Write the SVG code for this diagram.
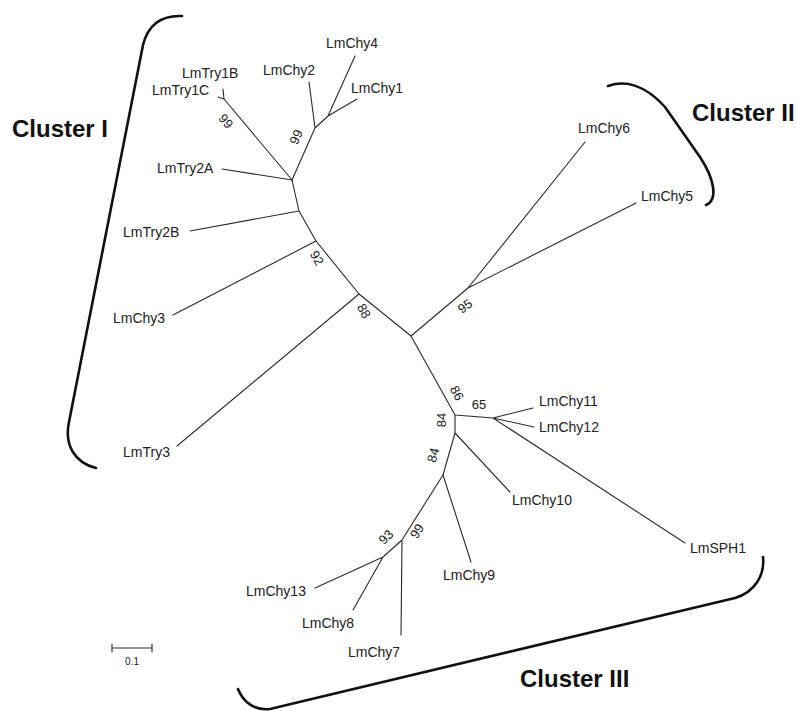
<svg xmlns="http://www.w3.org/2000/svg" width="797" height="711" viewBox="0 0 797 711">
<style>
.br{fill:none;stroke:#2a2a2a;stroke-width:1.1;stroke-linecap:round;stroke-linejoin:round}
.bk{fill:none;stroke:#111;stroke-width:2.6;stroke-linecap:round}
.lb{font-family:"Liberation Sans",Arial,sans-serif;font-size:14px;fill:#222}
.bs{font-family:"Liberation Sans",Arial,sans-serif;font-size:13px;fill:#222;text-anchor:middle}
.cl{font-family:"Liberation Sans",Arial,sans-serif;font-size:24px;font-weight:bold;fill:#111}
</style>
<rect width="797" height="711" fill="#fff"/>
<g id="brackets">
<path class="bk" d="M182,16 C160,15 148,25 143,45 L69,422 C64,445 75,463 96,468"/>
<path class="bk" d="M608,86 C625,80 645,85 665,107 L700,157 C715,180 718,200 706,205"/>
<path class="bk" d="M238,689 C243,702 255,711 270,709 L735,598 C755,592 765,575 763,557"/>
</g>
<g id="connectors">
<path class="br" d="M292,180 L224,99 M224,99 L218,97 M224,99 L223,89"/>
<path class="br" d="M292,180 L222,169"/>
<path class="br" d="M292,180 L315,128 L309,82 M315,128 L328,116 L355,56 M328,116 L357,99"/>
<path class="br" d="M292,180 L299,211 L190,231"/>
<path class="br" d="M299,211 L316,241 L173,315"/>
<path class="br" d="M316,241 L359,294 L177,446"/>
<path class="br" d="M359,294 L411,336 L468,288 L585,142 M468,288 L636,203"/>
<path class="br" d="M411,336 L455,415 L493,418 L533,408 M493,418 L534,427 M493,418 L685,543"/>
<path class="br" d="M455,415 L455,433 L510,492 M455,433 L443,475 L471,562"/>
<path class="br" d="M443,475 L402,540 L401,635 M402,540 L383,557 L315,588 M383,557 L353,610"/>
</g>
<g id="bootstrap">
<text class="bs" transform="translate(226,121) rotate(50)" dy="0.35em">99</text>
<text class="bs" transform="translate(296,137) rotate(-66)" dy="0.35em">99</text>
<text class="bs" transform="translate(317,258) rotate(60)" dy="0.35em">92</text>
<text class="bs" transform="translate(364,311) rotate(60)" dy="0.35em">88</text>
<text class="bs" transform="translate(465,306) rotate(-35)" dy="0.35em">95</text>
<text class="bs" transform="translate(457,393) rotate(62)" dy="0.35em">86</text>
<text class="bs" x="479" y="404" dy="0.35em">65</text>
<text class="bs" transform="translate(441,420) rotate(-90)" dy="0.35em">84</text>
<text class="bs" transform="translate(433,455) rotate(-75)" dy="0.35em">84</text>
<text class="bs" transform="translate(386,537) rotate(-45)" dy="0.35em">93</text>
<text class="bs" transform="translate(417,531) rotate(-58)" dy="0.35em">99</text>
</g>
<g id="LmChy4"><text class="lb" x="326" y="48">LmChy4</text></g>
<g id="LmChy2"><text class="lb" x="263" y="75">LmChy2</text></g>
<g id="LmChy1"><text class="lb" x="351" y="93">LmChy1</text></g>
<g id="LmTry1B"><text class="lb" x="182" y="78">LmTry1B</text></g>
<g id="LmTry1C"><text class="lb" x="152" y="95">LmTry1C</text></g>
<g id="LmTry2A"><text class="lb" x="157" y="173">LmTry2A</text></g>
<g id="LmTry2B"><text class="lb" x="123" y="237">LmTry2B</text></g>
<g id="LmChy3"><text class="lb" x="113" y="323">LmChy3</text></g>
<g id="LmTry3"><text class="lb" x="123" y="457">LmTry3</text></g>
<g id="LmChy6"><text class="lb" x="578" y="133">LmChy6</text></g>
<g id="LmChy5"><text class="lb" x="641" y="201">LmChy5</text></g>
<g id="LmChy11"><text class="lb" x="539" y="406">LmChy11</text></g>
<g id="LmChy12"><text class="lb" x="539" y="432">LmChy12</text></g>
<g id="LmChy10"><text class="lb" x="512" y="505">LmChy10</text></g>
<g id="LmSPH1"><text class="lb" x="690" y="553">LmSPH1</text></g>
<g id="LmChy9"><text class="lb" x="443" y="580">LmChy9</text></g>
<g id="LmChy13"><text class="lb" x="246" y="596">LmChy13</text></g>
<g id="LmChy8"><text class="lb" x="302" y="628">LmChy8</text></g>
<g id="LmChy7"><text class="lb" x="348" y="657">LmChy7</text></g>
<g id="clusters">
<text class="cl" x="12" y="137">Cluster I</text>
<text class="cl" x="692" y="121">Cluster II</text>
<text class="cl" x="520" y="687">Cluster III</text>
</g>
<g id="scalebar">
<path class="br" d="M112,644 V652 M112,648 H152 M152,644 V652"/>
<text x="132" y="665" style="font-family:'Liberation Sans',Arial,sans-serif;font-size:10px;fill:#222;text-anchor:middle">0.1</text>
</g>
</svg>
